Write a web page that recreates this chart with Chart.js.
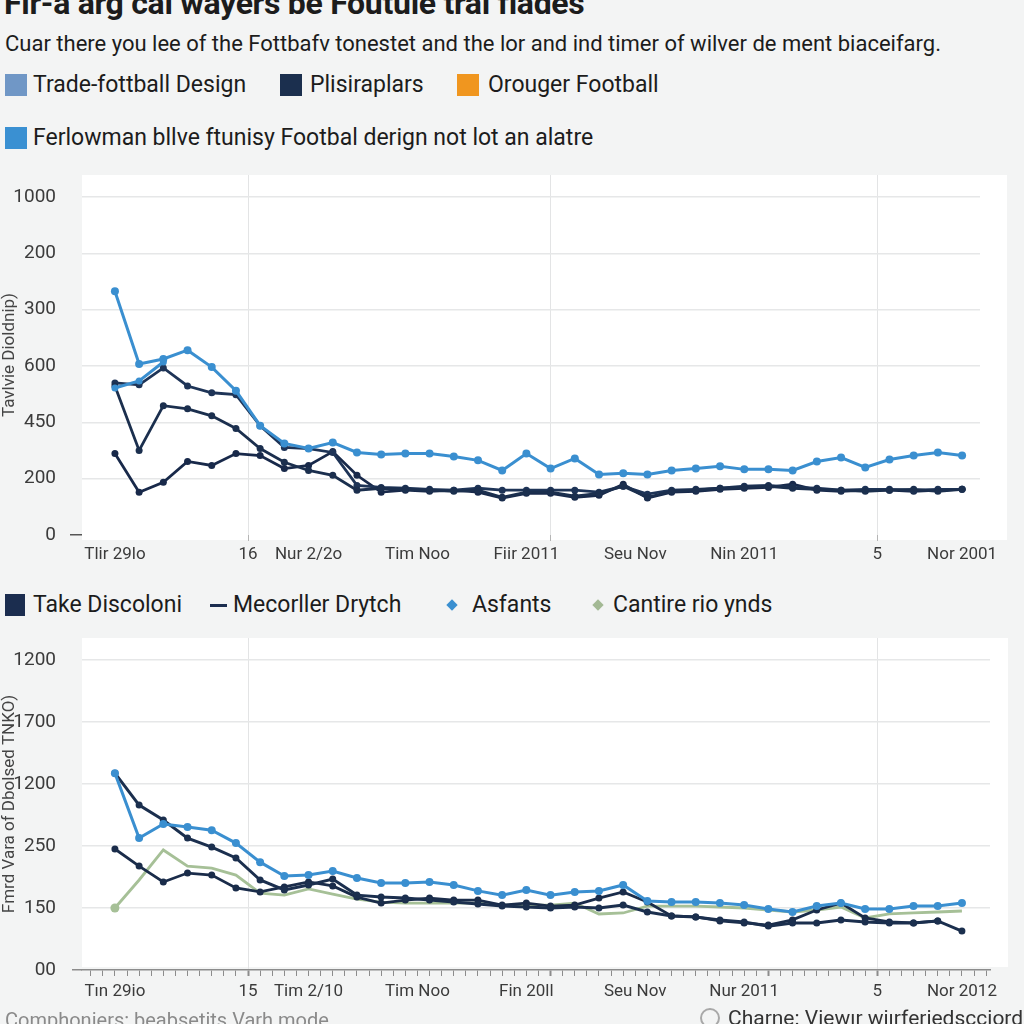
<!DOCTYPE html>
<html>
<head>
<meta charset="utf-8">
<script src="https://cdn.jsdelivr.net/npm/chart.js@4.4.1/dist/chart.umd.min.js"></script>
<style>
  body { margin:0; width:1024px; height:1024px; overflow:hidden; background:#f3f4f4;
         font-family: Roboto, "Noto Sans", sans-serif; color:#1c1c1c; position:relative; }
  .abs { position:absolute; white-space:nowrap; }
  #judul { left:4px; top:-16px; font-size:32px; font-weight:700; letter-spacing:-0.3px; line-height:38px; }
  #sub { left:5px; top:30px; font-size:22px; line-height:28px; }
  .txt { font-size:23px; line-height:28px; }
  .txt2 { font-size:23px; line-height:28px; }
  .sw { width:22px; height:22px; }
  .dia { width:8px; height:8px; transform:rotate(45deg); }
  #foot1 { left:5px; top:1008px; font-size:20px; color:#8a8a8a; }
  #foot2 { left:728px; top:1006px; font-size:21px; color:#333; }
  #bulat { left:700px; top:1008px; width:16px; height:16px; border:2px solid #a8a8a8; border-radius:50%; }
</style>
</head>
<body>
<div id="judul" class="abs">Fir-a arg cal wayers be Foutule tral flades</div>
<div id="sub" class="abs">Cuar there you lee of the Fottbafv tonestet and the lor and ind timer of wilver de ment biaceifarg.</div>

<!-- legend atas -->
<div class="abs sw" style="left:5px;top:74px;background:#7097c6"></div>
<div class="abs txt" style="left:33px;top:71px">Trade-fottball Design</div>
<div class="abs sw" style="left:280px;top:74px;background:#1b2f4e"></div>
<div class="abs txt" style="left:310px;top:71px">Plisiraplars</div>
<div class="abs sw" style="left:457px;top:74px;background:#f0961f"></div>
<div class="abs txt" style="left:488px;top:71px">Orouger Football</div>
<div class="abs sw" style="left:5px;top:127px;background:#3a90d2"></div>
<div class="abs txt" style="left:33px;top:124px">Ferlowman bllve ftunisy Footbal derign not lot an alatre</div>

<div class="abs" style="left:0;top:160px"><canvas id="chartAtas" width="1024" height="420"></canvas></div>

<!-- legend bawah -->
<div class="abs sw" style="left:5px;top:594px;width:20px;background:#1b2d4f"></div>
<div class="abs txt2" style="left:33px;top:591px">Take Discoloni</div>
<div class="abs" style="left:210px;top:604px;width:17px;height:3px;background:#1b2d4f"></div>
<div class="abs txt2" style="left:233px;top:591px">Mecorller Drytch</div>
<div class="abs dia" style="left:448px;top:601px;background:#3a8fd0"></div>
<div class="abs txt2" style="left:472px;top:591px">Asfants</div>
<div class="abs dia" style="left:594px;top:601px;background:#a3b994"></div>
<div class="abs txt2" style="left:613px;top:591px">Cantire rio ynds</div>

<div class="abs" style="left:0;top:625px"><canvas id="chartBawah" width="1024" height="390"></canvas></div>

<div id="foot1" class="abs">Comphoniers: beabsetits Varh mode</div>
<div id="bulat" class="abs"></div>
<div id="foot2" class="abs">Charne: Viewır wiırferiedscciord</div>

<script>
// posisi titik (urutan minggu), dipake dua chart
const xPos = [0,1,2,3,4,5,6,7,8,9,10,11,12,13,14,15,16,17,18,19,20,21,22,23,24,25,26,27,28,29,30,31,32,33,34,35];

// ---- data chart atas
const atasBiru = [865,607,625,656,596,512,388,325,307,328,293,286,289,289,279,265,229,289,236,272,215,219,215,229,236,244,233,233,229,261,275,240,268,282,293,282];
const atasBiruAwal = [522,547,614];
const atasNavy1 = [529,300,459,448,423,378,307,258,229,212,159,166,162,159,155,159,134,152,152,138,148,173,134,155,159,166,169,173,166,162,159,155,159,162,155,162];
const atasNavy2 = [540,533,593,529,505,498,388,311,307,293,176,169,166,162,159,166,159,159,159,159,152,173,145,159,162,166,173,176,169,166,159,162,162,159,162,162];
const atasNavy3 = [289,152,187,261,247,289,282,236,247,296,212,152,159,155,159,152,131,148,148,134,141,180,131,152,155,162,166,169,180,159,155,159,159,155,159,162];

const atasYTicks = [0,200,400,600,800,1000,1200];
const atasYLabels = ['0','200','450','600','300','200','1000'];
const atasXTicks = [0,5.5,8,12.5,17,18,21.5,26,31.5,35];
const atasXLabels = ['Tlir 29lo','16','Nur 2/2o','Tim Noo','Fiir 2011','','Seu Nov','Nin 2011','5','Nor 2001'];
const atasXGrid = [5.5,18,31.5];

// ---- data chart bawah
const bawahBiru = [794,532,589,577,564,512,435,379,383,399,371,351,351,355,343,319,302,323,302,315,319,343,278,274,274,270,262,246,234,258,270,246,246,258,258,270];
const bawahNavy1 = [794,665,605,532,496,452,363,323,343,367,302,294,290,282,274,266,258,254,250,254,250,262,234,218,214,202,194,177,190,190,202,194,190,190,198,157];
const bawahNavy2 = [488,419,355,391,383,331,315,335,355,339,294,270,282,290,282,282,262,270,258,262,290,315,274,218,214,198,190,181,202,242,270,210,194,190,198,null];
const bawahHijau = [250,363,484,419,411,383,310,302,327,306,286,274,270,270,270,270,262,262,262,270,226,230,258,258,258,254,250,242,234,242,254,210,226,230,234,238];

const bawahYTicks = [0,250,500,750,1000,1250];
const bawahYLabels = ['00','150','250','1200','1700','1200'];
const bawahXLabelAt = [0,5.5,8,12.5,17,21.5,26,31.5,35];
const bawahXLabels = ['Tın 29io','15','Tim 2/10','Tim Noo','Fin 20ll','Seu Nov','Nur 2011','5','Nor 2012'];
const bawahXMajor = [5.5,18,27,31.5];
const bawahXGrid = [5.5,31.5];

const BIRU = '#3a8fd0', NAVY = '#1b2f4e', HIJAU = '#a6c097';

Chart.defaults.font.family = 'Roboto, "Noto Sans", sans-serif';
Chart.defaults.color = '#3b3b3b';

const kunci = v => Math.round(v * 10);
const jadiTitik = arr => arr.map((y, i) => ({ x: xPos[i], y: y }));

// latar putih di belakang area plot
const latarPutih = {
  id: 'latarPutih',
  beforeDraw(chart, args, opts) {
    const a = chart.chartArea, c = chart.ctx;
    c.save();
    c.fillStyle = '#ffffff';
    c.fillRect(a.left, a.top, a.right - a.left + (opts.extraKanan || 0), a.bottom - a.top + (opts.extraBawah || 0));
    c.restore();
  }
};

// buang padding label biar area chart pas
const tanpaPadding = s => { s.paddingTop = 0; s.paddingBottom = 0; s.paddingLeft = 0; s.paddingRight = 0; };

function garis(label, data, warna, lebar, r) {
  return {
    label: label,
    data: data,
    borderColor: warna,
    backgroundColor: warna,
    pointBackgroundColor: warna,
    pointBorderWidth: 0,
    borderWidth: lebar,
    pointRadius: r,
    tension: 0,
    spanGaps: false
  };
}

// ================= chart atas
const labelAtasX = new Map(atasXTicks.map((v, i) => [kunci(v), atasXLabels[i]]));
const labelAtasY = new Map(atasYTicks.map((v, i) => [kunci(v), atasYLabels[i]]));

new Chart(document.getElementById('chartAtas'), {
  type: 'line',
  data: {
    datasets: [
      garis('Ferlowman bllve ftunisy Footbal derign not lot an alatre', jadiTitik(atasBiru), BIRU, 3, 4),
      garis('Ferlowman (awal)', jadiTitik(atasBiruAwal), BIRU, 3, 3.5),
      garis('Plisiraplars', jadiTitik(atasNavy1), NAVY, 2.8, 3.5),
      garis('Trade-fottball Design', jadiTitik(atasNavy2), '#1e3457', 2.8, 3.5),
      garis('Orouger Football', jadiTitik(atasNavy3), '#18294a', 2.8, 3.5)
    ]
  },
  options: {
    responsive: false,
    animation: false,
    layout: { padding: { top: 15, right: 44, left: 0, bottom: 0 } },
    plugins: {
      legend: { display: false },
      tooltip: { enabled: false },
      latarPutih: { extraKanan: 27, extraBawah: 5 }
    },
    scales: {
      x: {
        type: 'linear',
        min: -1.36,
        max: 35.74,
        afterBuildTicks: s => { s.ticks = atasXTicks.map(v => ({ value: v })); },
        afterFit: s => { s.height = 45; tanpaPadding(s); },
        border: { display: false },
        grid: {
          color: c => atasXGrid.includes(c.tick && c.tick.value) ? '#e3e4e5' : 'rgba(0,0,0,0)',
          tickColor: c => atasXGrid.includes(c.tick && c.tick.value) ? '#b5b5b5' : 'rgba(0,0,0,0)',
          tickLength: 6,
          lineWidth: 1
        },
        ticks: {
          autoSkip: false, maxRotation: 0, minRotation: 0, padding: 4,
          font: { size: 17 },
          callback: v => labelAtasX.get(kunci(v)) ?? ''
        }
      },
      y: {
        min: 0,
        max: 1278,
        afterBuildTicks: s => { s.ticks = atasYTicks.map(v => ({ value: v })); },
        afterFit: s => { s.width = 82; tanpaPadding(s); },
        border: { display: false },
        title: { display: true, text: 'Tavlvie Dioldnip)', font: { size: 17 }, color: '#444', padding: { top: 0, bottom: 0 } },
        grid: {
          color: c => c.tick && c.tick.value === 0 ? 'rgba(0,0,0,0)' : '#e6e7e8',
          tickColor: c => c.tick && c.tick.value === 0 ? '#555' : 'rgba(0,0,0,0)',
          tickLength: 12,
          lineWidth: 1.5
        },
        ticks: {
          padding: 14,
          font: { size: 19 },
          callback: v => labelAtasY.get(kunci(v)) ?? ''
        }
      }
    }
  },
  plugins: [latarPutih]
});

// ================= chart bawah
const bawahXTicks = [];
for (let v = -1; v <= 36; v += 0.5) bawahXTicks.push(v);
const labelBawahX = new Map(bawahXLabelAt.map((v, i) => [kunci(v), bawahXLabels[i]]));
const labelBawahY = new Map(bawahYTicks.map((v, i) => [kunci(v), bawahYLabels[i]]));

const hijau = garis('Cantire rio ynds', jadiTitik(bawahHijau), HIJAU, 2.8, 0);
hijau.pointRadius = c => c.dataIndex === 0 ? 4.5 : 0;

new Chart(document.getElementById('chartBawah'), {
  type: 'line',
  data: {
    datasets: [
      garis('Asfants', jadiTitik(bawahBiru), BIRU, 3, 4),
      garis('Take Discoloni', jadiTitik(bawahNavy1), NAVY, 3, 3.5),
      garis('Mecorller Drytch', jadiTitik(bawahNavy2), '#1a2c4a', 2.8, 3.5),
      hijau
    ]
  },
  options: {
    responsive: false,
    animation: false,
    layout: { padding: { top: 13, right: 34, left: 0, bottom: 0 } },
    plugins: {
      legend: { display: false },
      tooltip: { enabled: false },
      latarPutih: { extraKanan: 18, extraBawah: -3 }
    },
    scales: {
      x: {
        type: 'linear',
        min: -1.36,
        max: 36.16,
        afterBuildTicks: s => { s.ticks = bawahXTicks.map(v => ({ value: v })); },
        afterFit: s => { s.height = 45; tanpaPadding(s); },
        border: { display: true, color: '#8c8c8c', width: 1.5 },
        grid: {
          color: c => bawahXGrid.includes(c.tick && c.tick.value) ? '#e3e4e5' : 'rgba(0,0,0,0)',
          tickColor: '#8c8c8c',
          tickWidth: c => bawahXMajor.includes(c.tick && c.tick.value) ? 2 : 1,
          tickLength: 6,
          lineWidth: 1
        },
        ticks: {
          autoSkip: false, maxRotation: 0, minRotation: 0, padding: 6,
          font: { size: 17 },
          callback: v => labelBawahX.get(kunci(v)) ?? ''
        }
      },
      y: {
        min: 0,
        max: 1339,
        afterBuildTicks: s => { s.ticks = bawahYTicks.map(v => ({ value: v })); },
        afterFit: s => { s.width = 82; tanpaPadding(s); },
        border: { display: false },
        title: { display: true, text: 'Fmrd Vara of Dbolsed TNKO)', font: { size: 17 }, color: '#444', padding: { top: 0, bottom: 0 } },
        grid: {
          color: c => c.tick && c.tick.value === 0 ? 'rgba(0,0,0,0)' : '#e6e7e8',
          tickColor: c => c.tick && c.tick.value === 0 ? '#8c8c8c' : 'rgba(0,0,0,0)',
          tickLength: 10,
          lineWidth: 1.5
        },
        ticks: {
          padding: 16,
          font: { size: 19 },
          callback: v => labelBawahY.get(kunci(v)) ?? ''
        }
      }
    }
  },
  plugins: [latarPutih]
});
</script>
</body>
</html>
